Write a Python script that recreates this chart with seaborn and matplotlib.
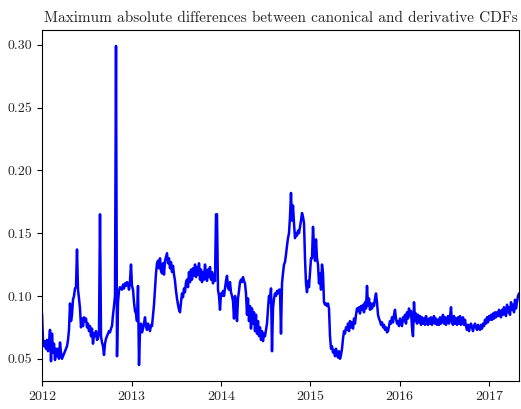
import pandas as pd
import seaborn as sns
import matplotlib.pyplot as plt
import matplotlib.dates as mdates

# series start / end (evenly spaced samples in between)
start_date = '2012-01-01'
end_date = '2017-05-03'

max_abs_diff = [
    0.086, 0.065, 0.060, 0.064, 0.058, 0.065, 0.056, 0.063, 0.073, 0.048,
    0.070, 0.055, 0.062, 0.049, 0.058, 0.052, 0.058, 0.050, 0.063, 0.055,
    0.050, 0.052, 0.054, 0.056, 0.058, 0.060, 0.065, 0.073, 0.094, 0.080,
    0.085, 0.097, 0.100, 0.106, 0.107, 0.137, 0.105, 0.098, 0.090, 0.075,
    0.082, 0.076, 0.083, 0.080, 0.082, 0.075, 0.078, 0.072, 0.076, 0.068,
    0.074, 0.062, 0.070, 0.068, 0.072, 0.065, 0.066, 0.072, 0.165, 0.068,
    0.063, 0.060, 0.053, 0.062, 0.066, 0.068, 0.070, 0.072, 0.071, 0.074,
    0.076, 0.085, 0.092, 0.100, 0.299, 0.052, 0.095, 0.104, 0.107, 0.106,
    0.105, 0.109, 0.106, 0.110, 0.108, 0.111, 0.110, 0.105, 0.112, 0.125,
    0.108, 0.105, 0.095, 0.088, 0.086, 0.080, 0.108, 0.045, 0.072, 0.078,
    0.071, 0.074, 0.078, 0.083, 0.076, 0.073, 0.078, 0.075, 0.072, 0.077,
    0.076, 0.085, 0.093, 0.105, 0.118, 0.126, 0.128, 0.122, 0.130, 0.120,
    0.118, 0.126, 0.117, 0.128, 0.131, 0.134, 0.126, 0.130, 0.122, 0.127,
    0.119, 0.124, 0.117, 0.112, 0.104, 0.098, 0.093, 0.089, 0.087, 0.095,
    0.102, 0.099, 0.106, 0.103, 0.111, 0.113, 0.107, 0.119, 0.111, 0.121,
    0.113, 0.122, 0.116, 0.125, 0.115, 0.123, 0.117, 0.126, 0.113, 0.121,
    0.111, 0.119, 0.113, 0.125, 0.116, 0.112, 0.121, 0.115, 0.123, 0.113,
    0.119, 0.110, 0.117, 0.112, 0.165, 0.165, 0.105, 0.100, 0.089, 0.102,
    0.100, 0.104, 0.100, 0.106, 0.112, 0.116, 0.107, 0.105, 0.111, 0.103,
    0.100, 0.096, 0.082, 0.100, 0.094, 0.080, 0.098, 0.104, 0.111, 0.113,
    0.111, 0.115, 0.112, 0.110, 0.102, 0.085, 0.098, 0.080, 0.092, 0.074,
    0.090, 0.078, 0.087, 0.072, 0.085, 0.070, 0.080, 0.068, 0.075, 0.065,
    0.072, 0.064, 0.070, 0.068, 0.073, 0.078, 0.090, 0.100, 0.095, 0.106,
    0.056, 0.090, 0.098, 0.102, 0.100, 0.104, 0.102, 0.105, 0.105, 0.070,
    0.110, 0.118, 0.125, 0.127, 0.133, 0.140, 0.146, 0.150, 0.163, 0.182,
    0.160, 0.172, 0.158, 0.146, 0.150, 0.148, 0.152, 0.150, 0.155, 0.160,
    0.166, 0.163, 0.158, 0.130, 0.110, 0.103, 0.112, 0.107, 0.118, 0.130,
    0.130, 0.155, 0.140, 0.128, 0.145, 0.130, 0.125, 0.110, 0.118, 0.105,
    0.125, 0.118, 0.095, 0.093, 0.094, 0.092, 0.094, 0.090, 0.068, 0.058,
    0.060, 0.055, 0.057, 0.052, 0.058, 0.054, 0.051, 0.056, 0.050, 0.053,
    0.058, 0.066, 0.072, 0.070, 0.075, 0.073, 0.078, 0.072, 0.080, 0.075,
    0.079, 0.074, 0.082, 0.078, 0.085, 0.090, 0.088, 0.091, 0.086, 0.092,
    0.089, 0.093, 0.087, 0.095, 0.090, 0.108, 0.092, 0.098, 0.089, 0.094,
    0.090, 0.094, 0.092, 0.098, 0.102, 0.095, 0.085, 0.082, 0.080, 0.077,
    0.079, 0.075, 0.077, 0.073, 0.075, 0.071, 0.072, 0.076, 0.080, 0.078,
    0.083, 0.079, 0.085, 0.089, 0.082, 0.078, 0.080, 0.076, 0.082, 0.079,
    0.076, 0.083, 0.080, 0.085, 0.078, 0.087, 0.082, 0.090, 0.084, 0.088,
    0.075, 0.068, 0.095, 0.080, 0.086, 0.078, 0.085, 0.079, 0.084, 0.077,
    0.083, 0.078, 0.082, 0.077, 0.084, 0.079, 0.077, 0.082, 0.078, 0.083,
    0.077, 0.081, 0.084, 0.078, 0.082, 0.077, 0.081, 0.077, 0.083, 0.078,
    0.082, 0.085, 0.078, 0.083, 0.077, 0.081, 0.084, 0.078, 0.083, 0.091,
    0.079, 0.077, 0.084, 0.078, 0.082, 0.077, 0.083, 0.078, 0.084, 0.077,
    0.081, 0.083, 0.077, 0.081, 0.076, 0.073, 0.077, 0.072, 0.076, 0.078,
    0.075, 0.072, 0.076, 0.078, 0.075, 0.073, 0.077, 0.074, 0.073, 0.077,
    0.074, 0.078, 0.076, 0.081, 0.078, 0.083, 0.079, 0.084, 0.081, 0.085,
    0.081, 0.086, 0.082, 0.087, 0.083, 0.087, 0.084, 0.089, 0.085, 0.083,
    0.089, 0.085, 0.091, 0.086, 0.084, 0.093, 0.087, 0.091, 0.085, 0.095,
    0.089, 0.093, 0.087, 0.097, 0.090, 0.095, 0.100, 0.102,
]

title = 'Maximum absolute differences between canonical and derivative CDFs'

dates = pd.date_range(start_date, end_date, periods=len(max_abs_diff))
df = pd.DataFrame({'date': dates, 'diff': max_abs_diff})

sns.set_style('ticks')
plt.rcParams['font.family'] = ['cmr10', 'DejaVu Serif']
plt.rcParams['mathtext.fontset'] = 'cm'
plt.rcParams['axes.formatter.use_mathtext'] = True
plt.rcParams['axes.unicode_minus'] = False

fig = plt.figure(figsize=(5.21, 4.09), dpi=100)
ax = fig.add_axes([42 / 521, 28 / 409, 477 / 521, 351 / 409])

sns.lineplot(data=df, x='date', y='diff', color='blue', linewidth=1.8, ax=ax)

ax.set_xlim(dates[0], dates[-1])
ax.xaxis.set_major_locator(mdates.YearLocator())
ax.xaxis.set_major_formatter(mdates.DateFormatter('%Y'))
ax.set_yticks([0.05, 0.10, 0.15, 0.20, 0.25, 0.30])
ax.yaxis.set_major_formatter(plt.FormatStrFormatter('%.2f'))
ax.set_xlabel('')
ax.set_ylabel('')
ax.tick_params(labelsize=10, length=3.5, width=0.8, color='black')
for s in ax.spines.values():
    s.set_color('black')
    s.set_linewidth(0.8)
ax.set_title(title, fontsize=11)

fig.savefig('out.png', dpi=100)
